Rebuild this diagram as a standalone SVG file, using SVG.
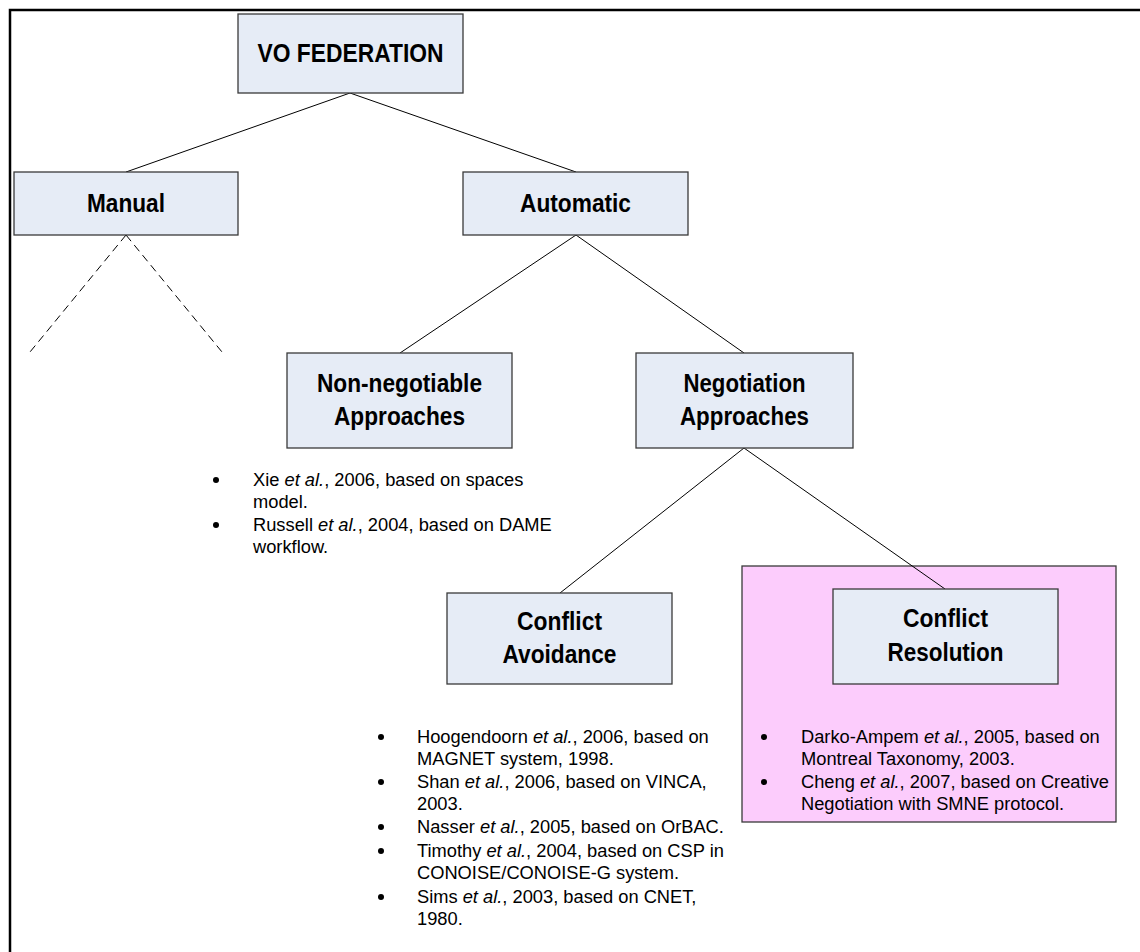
<svg xmlns="http://www.w3.org/2000/svg" width="1140" height="952" viewBox="0 0 1140 952">
<style>
.node{fill:#E6ECF6;stroke:#3a3a3a;stroke-width:1.3}
.title{font-family:"Liberation Sans",Arial,sans-serif;font-weight:bold;font-size:25px;fill:#000;text-anchor:middle}
.item{font-family:"Liberation Sans",Arial,sans-serif;font-size:18.3px;fill:#000}
.edge{stroke:#000;stroke-width:1;fill:none}
.dash{stroke:#000;stroke-width:1;fill:none;stroke-dasharray:8 5}
.bul{fill:#000}
</style>
<rect x="0" y="0" width="1140" height="952" fill="#fff"/>
<path d="M10,960 V10 H1150" fill="none" stroke="#000" stroke-width="2.5"/>
<g id="highlight">
<rect x="742" y="566" width="374" height="256" fill="#FCCCFC" stroke="#3a3a3a" stroke-width="1.3"/>
</g>
<g id="connectors">
<line class="edge" x1="350" y1="93" x2="126" y2="172"/>
<line class="edge" x1="350" y1="93" x2="576" y2="172"/>
<line class="dash" x1="126" y1="235" x2="30" y2="352"/>
<line class="dash" x1="126" y1="235" x2="222" y2="352"/>
<line class="edge" x1="576" y1="235" x2="400" y2="353"/>
<line class="edge" x1="576" y1="235" x2="744" y2="353"/>
<line class="edge" x1="744" y1="448" x2="560" y2="593"/>
<line class="edge" x1="744" y1="448" x2="945" y2="589"/>
</g>
<g id="vo-federation">
<rect class="node" x="238" y="14" width="225" height="79"/>
<text class="title" x="350.5" y="62" textLength="186" lengthAdjust="spacingAndGlyphs">VO FEDERATION</text>
</g>
<g id="manual">
<rect class="node" x="14" y="172" width="224" height="63"/>
<text class="title" x="126" y="212" textLength="78" lengthAdjust="spacingAndGlyphs">Manual</text>
</g>
<g id="automatic">
<rect class="node" x="463" y="172" width="225" height="63"/>
<text class="title" x="575.5" y="212" textLength="111" lengthAdjust="spacingAndGlyphs">Automatic</text>
</g>
<g id="non-negotiable">
<rect class="node" x="287" y="353" width="225" height="95"/>
<text class="title" x="399.5" y="392" textLength="165" lengthAdjust="spacingAndGlyphs">Non-negotiable</text>
<text class="title" x="399.5" y="425" textLength="131" lengthAdjust="spacingAndGlyphs">Approaches</text>
</g>
<g id="negotiation">
<rect class="node" x="636" y="353" width="217" height="95"/>
<text class="title" x="744.5" y="392" textLength="122" lengthAdjust="spacingAndGlyphs">Negotiation</text>
<text class="title" x="744.5" y="425" textLength="129" lengthAdjust="spacingAndGlyphs">Approaches</text>
</g>
<g id="conflict-avoidance">
<rect class="node" x="447" y="593" width="225" height="91"/>
<text class="title" x="559.5" y="630" textLength="85" lengthAdjust="spacingAndGlyphs">Conflict</text>
<text class="title" x="559.5" y="663" textLength="114" lengthAdjust="spacingAndGlyphs">Avoidance</text>
</g>
<g id="conflict-resolution">
<rect class="node" x="833" y="589" width="225" height="95"/>
<text class="title" x="945.5" y="627" textLength="85" lengthAdjust="spacingAndGlyphs">Conflict</text>
<text class="title" x="945.5" y="661" textLength="116" lengthAdjust="spacingAndGlyphs">Resolution</text>
</g>
<g id="list-non-negotiable">
<circle class="bul" cx="216" cy="480" r="3"/>
<text class="item" x="253" y="486">Xie <tspan font-style="italic">et al.</tspan>, 2006, based on spaces</text>
<text class="item" x="253" y="508">model.</text>
<circle class="bul" cx="216" cy="525" r="3"/>
<text class="item" x="253" y="531">Russell <tspan font-style="italic">et al.</tspan>, 2004, based on DAME</text>
<text class="item" x="253" y="553">workflow.</text>
</g>
<g id="list-avoidance">
<circle class="bul" cx="381" cy="737" r="3"/>
<text class="item" x="417" y="743">Hoogendoorn <tspan font-style="italic">et al.</tspan>, 2006, based on</text>
<text class="item" x="417" y="765">MAGNET system, 1998.</text>
<circle class="bul" cx="381" cy="782" r="3"/>
<text class="item" x="417" y="788">Shan <tspan font-style="italic">et al.</tspan>, 2006, based on VINCA,</text>
<text class="item" x="417" y="810">2003.</text>
<circle class="bul" cx="381" cy="827" r="3"/>
<text class="item" x="417" y="833">Nasser <tspan font-style="italic">et al.</tspan>, 2005, based on OrBAC.</text>
<circle class="bul" cx="381" cy="851" r="3"/>
<text class="item" x="417" y="857">Timothy <tspan font-style="italic">et al.</tspan>, 2004, based on CSP in</text>
<text class="item" x="417" y="879">CONOISE/CONOISE-G system.</text>
<circle class="bul" cx="381" cy="897" r="3"/>
<text class="item" x="417" y="903">Sims <tspan font-style="italic">et al.</tspan>, 2003, based on CNET,</text>
<text class="item" x="417" y="925">1980.</text>
</g>
<g id="list-resolution">
<circle class="bul" cx="764" cy="737" r="3"/>
<text class="item" x="801" y="743">Darko-Ampem <tspan font-style="italic">et al.</tspan>, 2005, based on</text>
<text class="item" x="801" y="765">Montreal Taxonomy, 2003.</text>
<circle class="bul" cx="764" cy="782" r="3"/>
<text class="item" x="801" y="788">Cheng <tspan font-style="italic">et al.</tspan>, 2007, based on Creative</text>
<text class="item" x="801" y="810">Negotiation with SMNE protocol.</text>
</g>
</svg>
